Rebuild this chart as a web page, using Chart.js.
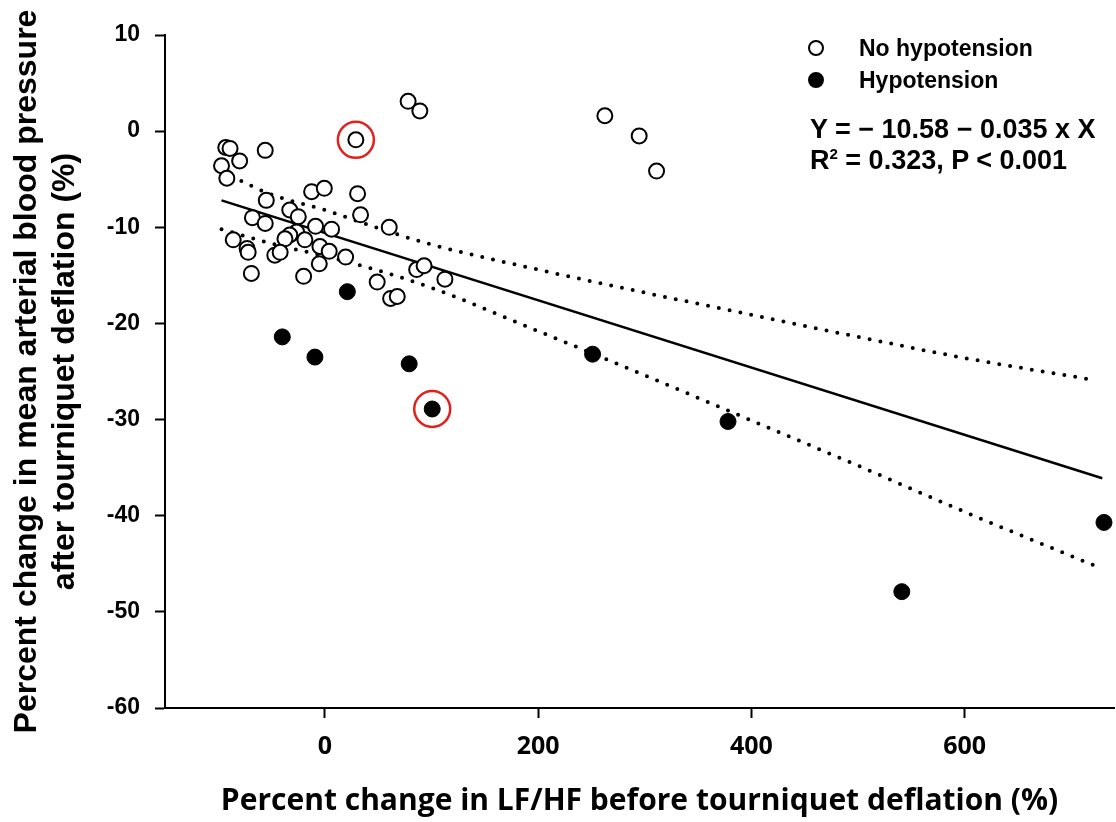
<!DOCTYPE html>
<html>
<head>
<meta charset="utf-8">
<script src="https://cdn.jsdelivr.net/npm/chart.js@4.4.1/dist/chart.umd.min.js"></script>
<style>
  html, body { margin: 0; background: #fff; overflow: hidden; }
  #wrap { position: relative; width: 1116px; height: 822px; }
  .note {
    position: absolute;
    font-family: "Liberation Sans", Arial, sans-serif;
    font-weight: bold;
    font-size: 23px;
    line-height: 1;
    color: #000;
    white-space: nowrap;
  }
  .eq { font-size: 27px; }
  .mark {
    position: absolute;
    width: 16px;
    height: 16px;
    border-radius: 50%;
    box-sizing: border-box;
    border: 2px solid #000;
  }
</style>
</head>
<body>
<div id="wrap">
  <canvas id="myChart" width="1116" height="822"></canvas>
  <div class="mark" style="left:808px; top:40px; background:#fff;"></div>
  <div class="note" style="left:859px; top:37px;">No hypotension</div>
  <div class="mark" style="left:808px; top:72px; background:#000;"></div>
  <div class="note" style="left:859px; top:69px;">Hypotension</div>
  <div class="note eq" style="left:810px; top:116px;">Y = &minus; 10.58 &minus; 0.035 x X</div>
  <div class="note eq" style="left:810px; top:146px;">R<sup style="font-size:15px; vertical-align:10px;">2</sup> = 0.323, P &lt; 0.001</div>
</div>
<script>
// tick labels
var xTickValues = [0, 200, 400, 600];

// patients without hypotension
var noHypoX = [-93, -89, -56, -97, -80, -92, 29, -12.5, -0.6, -55, 30.6, -33, -25, -68, -56,
  33.4, -8.8, 6.2, 60.3, -26.6, -33, -37.5, -86, -73, -72, -18.8, -4.7, 4, -47, -42,
  -5.3, 19.4, -69, -20, 49, 86, 93, 112.5, 61.6, 67.8, 78, 89, 262.5, 294.7, 311];
var noHypoY = [-1.7, -1.8, -2.0, -3.6, -3.1, -4.9, -0.9, -6.3, -5.95, -7.2, -6.5, -8.2, -8.9, -9.0, -9.6,
  -8.7, -9.9, -10.2, -10.0, -10.5, -10.8, -11.2, -11.3, -12.2, -12.6, -11.3, -12.0, -12.5, -12.9, -12.6,
  -13.8, -13.1, -14.8, -15.1, -15.7, -14.4, -14.0, -15.4, -17.4, -17.2, 3.1, 2.1, 1.6, -0.5, -4.15];

// patients with hypotension
var hypoX = [21, -40, -9.4, 79, 100.6, 251, 378, 541, 730.6];
var hypoY = [-16.7, -21.4, -23.5, -24.2, -28.9, -23.2, -30.2, -47.9, -40.7];

// the two circled cases
var markedX = [29, 100.6];
var markedY = [-0.9, -28.9];

// regression line and 95% band
var fitX = [-97, 729];
var fitY = [-7.2, -36.1];
var bandX = [-97, -50, 0, 50, 100, 200, 300, 400, 500, 600, 722];
var upperY = [-4.2, -6.6, -8.2, -10.1, -11.8, -14.4, -16.8, -19.1, -21.4, -23.6, -25.9];
var lowerY = [-10.2, -11.7, -13.0, -14.5, -16.3, -20.8, -25.4, -30.1, -34.8, -39.6, -45.2];

function pts(xs, ys) {
  return xs.map(function (x, i) { return { x: x, y: ys[i] }; });
}

var arial = "'Liberation Sans', Arial, sans-serif";
var openSans = "'Open Sans', sans-serif";

var dotted = {
  showLine: true,
  pointRadius: 0,
  borderColor: '#000',
  borderWidth: 4,
  borderDash: [0, 11],
  borderCapStyle: 'round',
  cubicInterpolationMode: 'monotone',
  fill: false,
  order: 3
};

new Chart("myChart", {
  type: "scatter",
  data: {
    datasets: [
      {
        data: pts(markedX, markedY),
        pointRadius: 18,
        borderWidth: 2.5,
        borderColor: '#e3211c',
        backgroundColor: 'rgba(0,0,0,0)',
        order: 0
      },
      {
        data: pts(noHypoX, noHypoY),
        pointRadius: 7.5,
        borderWidth: 2,
        borderColor: '#000',
        backgroundColor: '#fff',
        order: 1
      },
      {
        data: pts(hypoX, hypoY),
        pointRadius: 8,
        borderWidth: 1,
        borderColor: '#000',
        backgroundColor: '#000',
        order: 1
      },
      {
        data: pts(fitX, fitY),
        showLine: true,
        pointRadius: 0,
        borderColor: '#000',
        borderWidth: 2.5,
        order: 2
      },
      Object.assign({ data: pts(bandX, upperY) }, dotted),
      Object.assign({ data: pts(bandX, lowerY) }, dotted)
    ]
  },
  options: {
    responsive: false,
    animation: false,
    // no auto padding: keeps the plot area flush with the right edge
    layout: { autoPadding: false, padding: { top: 35, right: 2, bottom: 0, left: 0 } },
    plugins: {
      legend: { display: false },
      tooltip: { enabled: false }
    },
    scales: {
      x: {
        type: 'linear',
        position: 'bottom',
        min: -150,
        max: 740,
        afterBuildTicks: function (sc) {
          sc.ticks = xTickValues.map(function (v) { return { value: v }; });
        },
        afterFit: function (sc) {
          sc.height = 114;
          sc.paddingLeft = 0;
          sc.paddingRight = 0;
        },
        border: { display: true, color: '#000', width: 2 },
        grid: { drawOnChartArea: false, tickLength: 10, tickWidth: 2, tickColor: '#000' },
        ticks: {
          color: '#000',
          padding: 14,
          maxRotation: 0,
          font: { family: openSans, size: 25, weight: 'bold' }
        },
        title: {
          display: true,
          text: 'Percent change in LF/HF before tourniquet deflation (%)',
          color: '#000',
          padding: { top: 0, bottom: 3 },
          font: { family: openSans, size: 30, weight: 'bold' }
        }
      },
      y: {
        min: -60,
        max: 10,
        afterFit: function (sc) {
          sc.width = 165;
          sc.paddingTop = 0;
          sc.paddingBottom = 0;
        },
        border: { display: true, color: '#000', width: 2 },
        grid: { drawOnChartArea: false, tickLength: 10, tickWidth: 2, tickColor: '#000' },
        ticks: {
          stepSize: 10,
          color: '#000',
          padding: 15,
          font: { family: arial, size: 23, weight: 'bold' }
        },
        title: {
          display: true,
          text: ['Percent change in mean arterial blood pressure', 'after tourniquet deflation (%)'],
          color: '#000',
          padding: { top: 8, bottom: 0 },
          font: { family: arial, size: 32, weight: 'bold' }
        }
      }
    }
  }
});
</script>
</body>
</html>
